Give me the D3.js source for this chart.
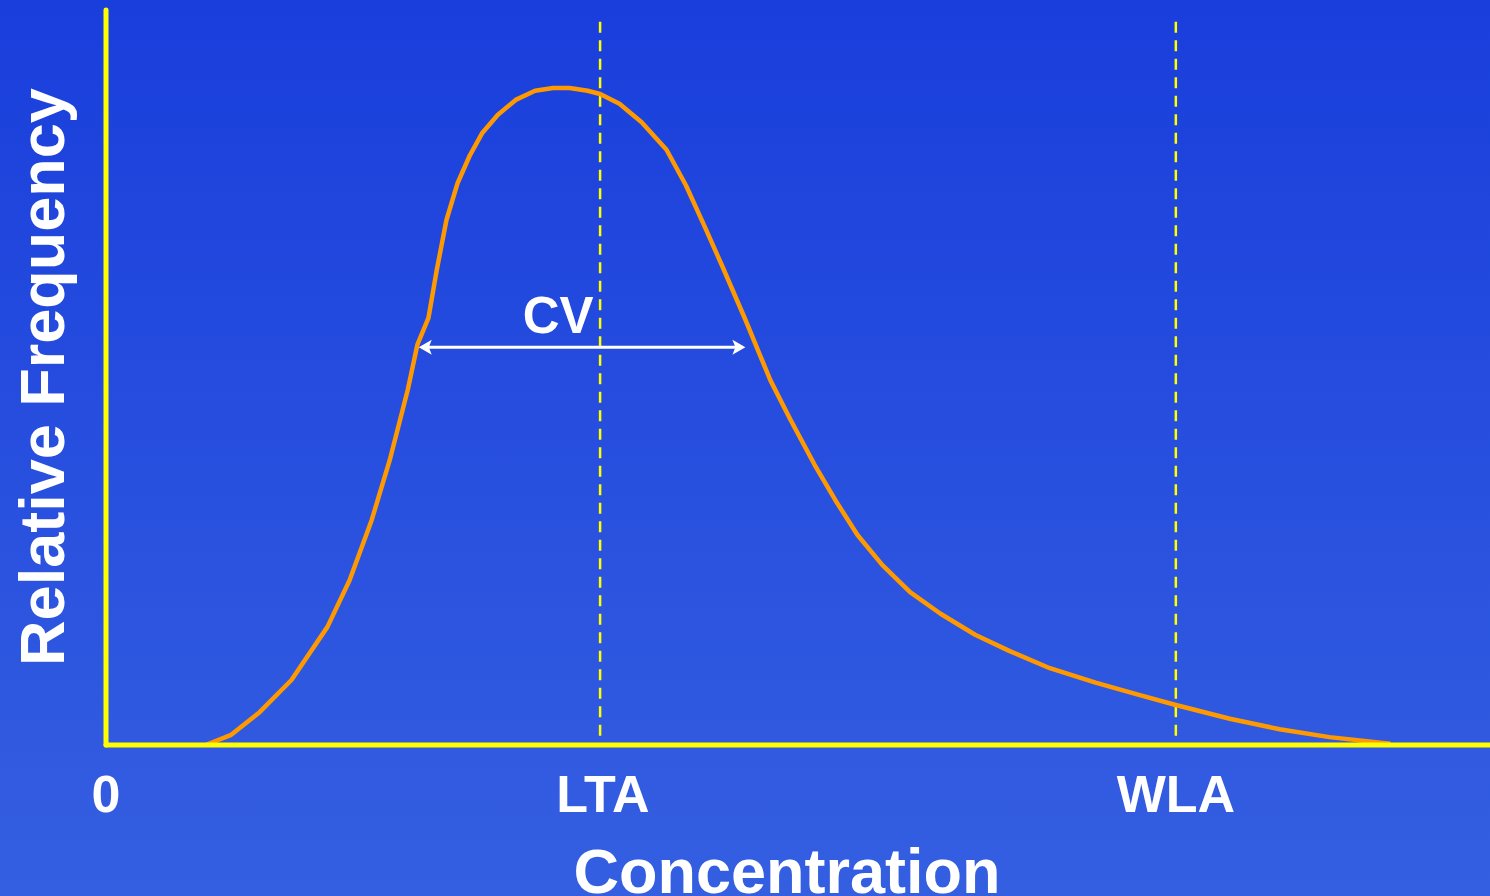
<!DOCTYPE html>
<html>
<head>
<meta charset="utf-8">
<script src="https://cdn.jsdelivr.net/npm/d3@7"></script>
<style>
  html, body { margin: 0; padding: 0; overflow: hidden; }
  svg { display: block; }
</style>
</head>
<body>
<svg id="chart"></svg>
<script>
// concentration (x) and relative frequency (y)
let curveX = [7.2, 9.0, 11.1, 13.4, 16.0, 17.6, 19.2, 20.5, 21.8, 22.5, 23.3, 23.9,
  24.6, 25.4, 26.3, 27.2, 28.3, 29.6, 31.0, 32.3, 33.5, 34.8, 35.7, 37.1, 38.7,
  40.5, 41.9, 43.3, 44.5, 46.2, 48.0, 49.4, 51.2, 52.7, 54.3, 56.1, 58.1, 60.3,
  62.8, 65.3, 68.2, 71.5, 74.7, 77.3, 81.2, 84.8, 88.4, 92.8];
let curveY = [0, 1.5, 5.0, 9.9, 18.0, 25.1, 34.3, 43.4, 54.1, 61.0, 65.1, 72.4,
  80.0, 85.6, 89.9, 93.3, 96.0, 98.3, 99.7, 100.1, 100.1, 99.7, 99.2, 97.7, 94.9,
  90.7, 85.3, 78.8, 73.1, 64.8, 55.6, 49.8, 42.7, 37.3, 32.0, 27.4, 23.3, 20.0,
  16.8, 14.3, 11.7, 9.5, 7.6, 6.1, 4.0, 2.4, 1.2, 0.2];

// reference levels (dashed lines) and axis labels
let refLines = [35.7, 77.3];
let tickValues = [0, 35.9, 77.3];
let tickLabels = ["0", "LTA", "WLA"];

// CV span
let cvStart = 22.6;
let cvEnd = 46.2;
let cvLevel = 60.6;

let width = 1490;
let height = 896;

let svg = d3.select("#chart")
  .attr("width", width)
  .attr("height", height)
  .attr("viewBox", `0 0 ${width} ${height}`)
  .style("font-family", "'Liberation Sans', Arial, sans-serif");

// background gradient
let defs = svg.append("defs");
let grad = defs.append("linearGradient")
  .attr("id", "bg")
  .attr("x1", 0).attr("y1", 0)
  .attr("x2", 0).attr("y2", 1);
grad.append("stop").attr("offset", "0%").attr("stop-color", "#193edc");
grad.append("stop").attr("offset", "100%").attr("stop-color", "#355fe1");

svg.append("rect")
  .attr("width", width)
  .attr("height", height)
  .attr("fill", "url(#bg)");

// scales
let x = d3.scaleLinear().domain([0, 100]).range([106, 1490]);
let y = d3.scaleLinear().domain([0, 112]).range([745, 10]);

// dashed reference lines
svg.selectAll("line.ref")
  .data(refLines)
  .enter()
  .append("line")
  .attr("class", "ref")
  .attr("x1", function (d) { return x(d); })
  .attr("x2", function (d) { return x(d); })
  .attr("y1", y(110.2))
  .attr("y2", y(0))
  .attr("stroke", "#ffff00")
  .attr("stroke-width", 2.5)
  .attr("stroke-dasharray", "11,7.5");

// curve
let line = d3.line()
  .x(function (d) { return x(d[0]); })
  .y(function (d) { return y(d[1]); })
  .curve(d3.curveLinear);

svg.append("path")
  .datum(d3.zip(curveX, curveY))
  .attr("d", line)
  .attr("fill", "none")
  .attr("stroke", "#ff9900")
  .attr("stroke-width", 4.5)
  .attr("stroke-linejoin", "round");

// axes
svg.append("line")
  .attr("x1", x(0)).attr("x2", x(0))
  .attr("y1", y(112)).attr("y2", y(0))
  .attr("stroke", "#ffff00")
  .attr("stroke-width", 5)
  .attr("stroke-linecap", "round");

svg.append("line")
  .attr("x1", x(0)).attr("x2", x(100))
  .attr("y1", y(0)).attr("y2", y(0))
  .attr("stroke", "#ffff00")
  .attr("stroke-width", 5)
  .attr("stroke-linecap", "round");

// CV arrow
let xa = x(cvStart), xb = x(cvEnd), ya = y(cvLevel);
svg.append("line")
  .attr("x1", xa + 6).attr("x2", xb - 6)
  .attr("y1", ya).attr("y2", ya)
  .attr("stroke", "white")
  .attr("stroke-width", 3);

svg.append("path")
  .attr("d", `M${xa},${ya} L${xa + 13},${ya - 7.5} L${xa + 10},${ya} L${xa + 13},${ya + 7.5} Z`)
  .attr("fill", "white");
svg.append("path")
  .attr("d", `M${xb},${ya} L${xb - 13},${ya - 7.5} L${xb - 10},${ya} L${xb - 13},${ya + 7.5} Z`)
  .attr("fill", "white");

svg.append("text")
  .attr("x", x((cvStart + cvEnd) / 2) - 24)
  .attr("y", 333)
  .attr("text-anchor", "middle")
  .attr("fill", "white")
  .style("font-weight", "bold")
  .style("font-size", "51px")
  .text("CV");

// tick labels
svg.selectAll("text.tick")
  .data(tickValues)
  .enter()
  .append("text")
  .attr("class", "tick")
  .attr("x", function (d) { return x(d); })
  .attr("y", 812)
  .attr("text-anchor", "middle")
  .attr("fill", "white")
  .style("font-weight", "bold")
  .style("font-size", "52px")
  .text(function (d, i) { return tickLabels[i]; });

// axis titles
svg.append("text")
  .attr("x", 787)
  .attr("y", 893)
  .attr("text-anchor", "middle")
  .attr("fill", "white")
  .style("font-weight", "bold")
  .style("font-size", "63px")
  .text("Concentration");

svg.append("text")
  .attr("transform", "translate(64,377) rotate(-90)")
  .attr("text-anchor", "middle")
  .attr("fill", "white")
  .style("font-weight", "bold")
  .style("font-size", "63px")
  .text("Relative Frequency");
</script>
</body>
</html>
